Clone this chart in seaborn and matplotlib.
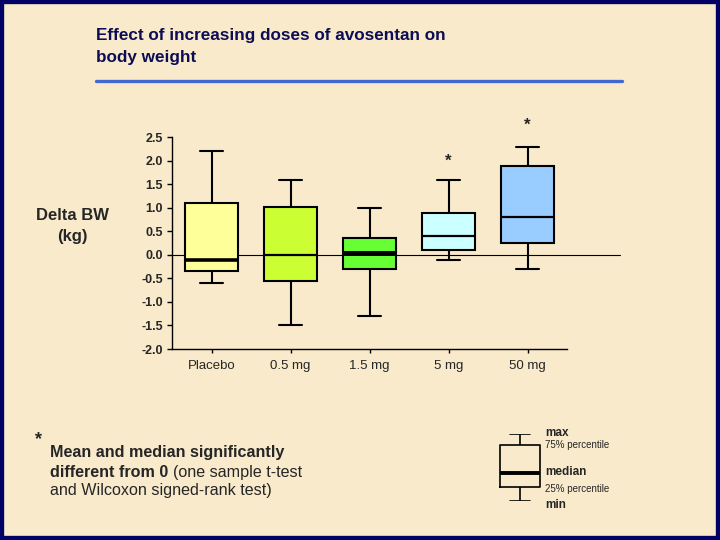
import numpy as np
import pandas as pd
import seaborn as sns
import matplotlib
matplotlib.use("Agg")
import matplotlib.pyplot as plt
from matplotlib.lines import Line2D
from matplotlib.patches import Rectangle

# five-number summaries (min, q1, median, q3, max)
doses = ["Placebo", "0.5 mg", "1.5 mg", "5 mg", "50 mg"]
low = [-0.6, -1.5, -1.3, -0.1, -0.3]
q1 = [-0.35, -0.55, -0.3, 0.1, 0.25]
median = [-0.1, -0.01, 0.05, 0.4, 0.8]
q3 = [1.1, 1.02, 0.35, 0.9, 1.9]
high = [2.2, 1.6, 1.0, 1.6, 2.3]
box_colors = ["#FFFF99", "#CCFF33", "#66FF33", "#CCFFFF", "#99CCFF"]
median_widths = [2.6, 1.6, 3.6, 1.6, 1.6]
star_doses = ["5 mg", "50 mg"]
star_y = [2.0, 2.75]
yticks = [-2.0, -1.5, -1.0, -0.5, 0.0, 0.5, 1.0, 1.5, 2.0, 2.5]

# key glyph (relative positions of max / q3 / median / q1 / min)
key_values = [0.0, 0.21, 0.42, 0.84, 1.0]
key_labels = ["max", "75% percentile", "median", "25% percentile", "min"]

bg = "#F8EACB"
navy = "#0D0D55"

sns.set_style("white")
plt.rcParams["font.family"] = ["Liberation Sans", "DejaVu Sans"]

# 5 points per group -> with whis=(0,100) the box shows exactly the summary
rows = []
for d, a, b, c, e, f in zip(doses, low, q1, median, q3, high):
    for v in (a, b, c, e, f):
        rows.append({"dose": d, "delta": v})
df = pd.DataFrame(rows)

fig = plt.figure(figsize=(7.2, 5.4), dpi=100, facecolor=bg)
W, H = 720, 540

ax = fig.add_axes([172 / W, 1 - 349 / H, 395 / W, (349 - 137.3) / H])
ax.set_facecolor("none")
sns.boxplot(data=df, x="dose", y="delta", hue="dose", order=doses,
            palette=box_colors, saturation=1, whis=(0, 100), width=0.68,
            linewidth=1.5, linecolor="black", showfliers=False, legend=False,
            ax=ax)

for cont, mw in zip(ax.containers, median_widths):
    for m in cont.medians:
        m.set_linewidth(mw)
    for cap in cont.caps:
        xs = cap.get_xdata()
        cx = (xs[0] + xs[-1]) / 2
        cap.set_xdata([cx - 0.15, cx + 0.15])

ax.axhline(0, xmin=0, xmax=(620 - 172) / 395, color="black", lw=0.8,
           clip_on=False, zorder=0.9)

ax.set_xlim(-0.5, 4.5)
ax.set_ylim(-2.0, 2.5)
ax.set_yticks(yticks)
ax.set_yticklabels([f"{t:.1f}" for t in yticks], fontsize=9, fontweight="bold")
ax.set_xticks(range(len(doses)))
ax.set_xticklabels(doses, fontsize=9.5)
ax.set_xlabel("")
ax.set_ylabel("")
ax.tick_params(axis="y", left=True, length=3.5, width=1, pad=3, color="black")
ax.tick_params(axis="x", bottom=True, length=3, width=1, pad=5, color="black")
sns.despine(ax=ax)
for s in ["left", "bottom"]:
    ax.spines[s].set_color("black")
    ax.spines[s].set_linewidth(1)

for d, y in zip(star_doses, star_y):
    ax.text(doses.index(d), y, "*", ha="center", va="center", fontsize=12,
            fontweight="bold", clip_on=False)

fig.text(72 / W, 1 - 226 / H, "Delta BW\n(kg)", ha="center", va="center",
         fontsize=12, fontweight="bold", linespacing=1.55)

# title and underline
fig.text(96 / W, 1 - 28 / H, "Effect of increasing doses of avosentan on\nbody weight",
         ha="left", va="top", fontsize=12.3, fontweight="bold", color=navy,
         linespacing=1.6)
fig.add_artist(Line2D([96 / W, 622 / W], [1 - 81 / H, 1 - 81 / H],
                      color="#4169D1", lw=2.4))

# footnote
fig.text(35 / W, 1 - 440 / H, "*", fontsize=13, fontweight="bold", va="center")
fig.text(50 / W, 1 - 456.7 / H, "Mean and median significantly",
         fontsize=11.6, fontweight="bold", va="baseline")
t2 = fig.text(50 / W, 1 - 476.7 / H, "different from 0",
              fontsize=11.6, fontweight="bold", va="baseline")
ax.annotate("(one sample t-test", xy=(1, 0), xycoords=t2, xytext=(3.5, 0),
            textcoords="offset points", fontsize=11.6, va="bottom", ha="left",
            annotation_clip=False)
fig.text(50 / W, 1 - 495 / H, "and Wilcoxon signed-rank test)",
         fontsize=11.6, va="baseline")

# key glyph
kax = fig.add_axes([490 / W, 1 - 501 / H, 60 / W, 67 / H])
kax.set_facecolor("none")
sns.boxplot(y=key_values, whis=(0, 100), width=0.667, fill=False,
            color="black", linewidth=1.2, showfliers=False, ax=kax)
for cont in kax.containers:
    for m in cont.medians:
        m.set_linewidth(2.8)
    for cap in cont.caps:
        xs = cap.get_xdata()
        cx = (xs[0] + xs[-1]) / 2
        cap.set_xdata([cx - 0.167, cx + 0.167])
kax.set_xlim(-0.5, 0.5)
kax.set_ylim(0, 1)
kax.axis("off")

key_y = [433, 445, 472, 489, 505]
for lab, y in zip(key_labels, key_y):
    bold = "percentile" not in lab
    fig.text(545 / W, 1 - y / H, lab, ha="left", va="center",
             fontsize=8.5 if bold else 7,
             fontweight="bold" if bold else "normal")

fig.add_artist(Rectangle((0, 0), 1, 1, transform=fig.transFigure, fill=False,
                         edgecolor="#000066", lw=6))

fig.savefig("out.png", dpi=100, facecolor=bg)
